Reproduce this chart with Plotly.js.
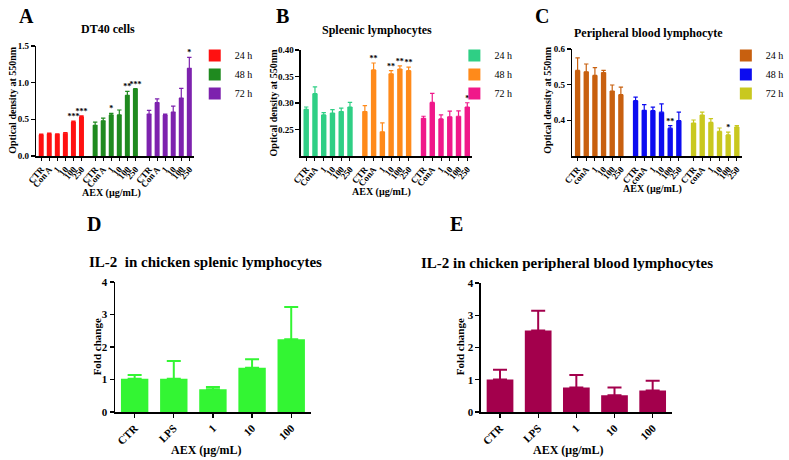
<!DOCTYPE html>
<html><head><meta charset="utf-8">
<script src="https://cdn.plot.ly/plotly-3.0.1.min.js"></script>
<style>html,body{margin:0;padding:0;background:#fff}#chart{width:789px;height:460px}</style>
</head><body><div id="chart"></div>
<script>
// ---------- DATA ----------
const timeGroups = ['24 h', '48 h', '72 h'];
const catsA = ['CTR', 'Con A', '1', '10', '100', '250'];
const catsB = ['CTR', 'ConA', '1', '10', '100', '250'];
const catsC = ['CTR', 'conA', '1', '10', '100', '250'];

// Panel A: DT40 cells
const a24 = [0.29, 0.305, 0.295, 0.31, 0.464, 0.536];
const a24err = [0.008, 0.008, 0.006, 0.008, 0.013, 0.01];
const a24sig = ['', '', '', '', '***', '***'];
const a48 = [0.418, 0.48, 0.56, 0.56, 0.827, 0.914];
const a48err = [0.045, 0.037, 0.02, 0.067, 0.055, 0.006];
const a48sig = ['', '', '*', '', '**', '***'];
const a72 = [0.573, 0.727, 0.56, 0.60, 0.79, 1.195];
const a72err = [0.05, 0.053, 0.013, 0.08, 0.133, 0.15];
const a72sig = ['', '', '', '', '', '*'];

// Panel B: Spleenic lymphocytes
const b24 = [0.288, 0.3175, 0.2775, 0.281, 0.284, 0.2925];
const b24err = [0.0045, 0.013, 0.0045, 0.0065, 0.0065, 0.0085];
const b24sig = ['', '', '', '', '', ''];
const b48 = [0.284, 0.3625, 0.2456, 0.355, 0.364, 0.361];
const b48err = [0.011, 0.013, 0.017, 0.006, 0.006, 0.0065];
const b48sig = ['', '**', '', '**', '**', '**'];
const b72 = [0.271, 0.301, 0.27, 0.274, 0.275, 0.2925];
const b72err = [0.004, 0.017, 0.0075, 0.0105, 0.01, 0.008];
const b72sig = ['', '', '', '', '', '*'];

// Panel C: Peripheral blood lymphocyte
const c24 = [0.540, 0.536, 0.526, 0.534, 0.482, 0.472];
const c24err = [0.035, 0.022, 0.022, 0.006, 0.017, 0.021];
const c24sig = ['', '', '', '', '', ''];
const c48 = [0.455, 0.428, 0.427, 0.423, 0.378, 0.399];
const c48err = [0.01, 0.016, 0.01, 0.023, 0.007, 0.024];
const c48sig = ['', '', '', '', '**', ''];
const c72 = [0.3925, 0.415, 0.394, 0.369, 0.359, 0.381];
const c72err = [0.0085, 0.008, 0.011, 0.0095, 0.008, 0.004];
const c72sig = ['', '', '', '', '*', ''];

// Panels D/E: IL-2 fold change
const catsIL = ['CTR', 'LPS', '1', '10', '100'];
const dVals = [1.02, 1.02, 0.70, 1.36, 2.24];
const dErr = [0.12, 0.55, 0.07, 0.26, 0.99];
const eVals = [1.01, 2.53, 0.76, 0.52, 0.67];
const eErr = [0.30, 0.61, 0.39, 0.24, 0.30];

// ---------- STYLE ----------
const W = 789, H = 460;
const SERIF = 'Liberation Serif, Times New Roman, serif';
const px = v => v / W;
const py = v => 1 - v / H;
const GROUP_STEP = 6.7;
const colA = ['#ff1111', '#1f8a1f', '#7d22ae'];
const colB = ['#2fcf85', '#ff8a1a', '#f0188a'];
const colC = ['#c8600f', '#0c0cf0', '#c9c81f'];
const colD = '#33f533';
const colE = '#a3004c';

const traces = [];
function xpos(g, n) { return Array.from({length: n}, (_, i) => g * GROUP_STEP + i); }

function addPanel(ax, ay, legendId, cats, series, colors) {
  series.forEach((s, g) => {
    const xs = xpos(g, cats.length);
    traces.push({
      type: 'bar', x: xs, y: s.v, width: 0.62, name: timeGroups[g],
      xaxis: ax, yaxis: ay, legend: legendId,
      marker: {color: colors[g], line: {width: 0}},
      error_y: {type: 'data', symmetric: false, array: s.e, arrayminus: s.e.map(() => 0),
                color: colors[g], thickness: 1.2, width: 2.2},
      hoverinfo: 'skip'
    });
    const sx = [], sy = [], st = [];
    s.sig.forEach((t, i) => { if (t) { sx.push(xs[i]); sy.push(s.v[i] + s.e[i]); st.push(t); } });
    if (sx.length) traces.push({
      type: 'scatter', mode: 'text', x: sx, y: sy, text: st, textposition: 'top center',
      textfont: {family: SERIF, size: 8, color: '#000', weight: 'bold'},
      xaxis: ax, yaxis: ay, showlegend: false, hoverinfo: 'skip', cliponaxis: false
    });
  });
}

addPanel('x', 'y', 'legend', catsA, [
  {v: a24, e: a24err, sig: a24sig}, {v: a48, e: a48err, sig: a48sig}, {v: a72, e: a72err, sig: a72sig}], colA);
addPanel('x2', 'y2', 'legend2', catsB, [
  {v: b24, e: b24err, sig: b24sig}, {v: b48, e: b48err, sig: b48sig}, {v: b72, e: b72err, sig: b72sig}], colB);
addPanel('x3', 'y3', 'legend3', catsC, [
  {v: c24, e: c24err, sig: c24sig}, {v: c48, e: c48err, sig: c48sig}, {v: c72, e: c72err, sig: c72sig}], colC);

traces.push({type: 'bar', x: catsIL, y: dVals, xaxis: 'x4', yaxis: 'y4', width: 0.7, showlegend: false,
  marker: {color: colD}, hoverinfo: 'skip',
  error_y: {type: 'data', symmetric: false, array: dErr, arrayminus: dErr.map(() => 0), color: colD, thickness: 2, width: 7}});
traces.push({type: 'bar', x: catsIL, y: eVals, xaxis: 'x5', yaxis: 'y5', width: 0.7, showlegend: false,
  marker: {color: colE}, hoverinfo: 'skip',
  error_y: {type: 'data', symmetric: false, array: eErr, arrayminus: eErr.map(() => 0), color: colE, thickness: 2, width: 7}});

const tickF = s => ({family: SERIF, size: s, color: '#000', weight: 'bold'});
function topX(domain, anchor, cats) {
  const tv = [], tt = [];
  for (let g = 0; g < 3; g++) xpos(g, cats.length).forEach((x, i) => { tv.push(x); tt.push(cats[i]); });
  return {domain, anchor, range: [-0.6, 2 * GROUP_STEP + cats.length - 1 + 0.55], tickvals: tv, ticktext: tt,
    tickangle: -50, tickfont: tickF(9), showline: true, linecolor: '#000', linewidth: 1.5,
    ticks: 'outside', ticklen: 3, tickwidth: 1, tickcolor: '#000', showgrid: false, zeroline: false, fixedrange: true};
}
function topY(domain, anchor, range, tickvals, fmt) {
  return {domain, anchor, range, tickvals, tickformat: fmt, tickfont: tickF(9), showline: true, linecolor: '#000',
    linewidth: 1.5, ticks: 'outside', ticklen: 4, tickwidth: 1.2, tickcolor: '#000', showgrid: false, zeroline: false, fixedrange: true};
}
function botX(domain, anchor) {
  return {domain, anchor, type: 'category', range: [-0.5, 4.5], tickangle: -45, tickfont: tickF(11),
    showline: true, linecolor: '#000', linewidth: 1.5, ticks: 'outside', ticklen: 4, tickwidth: 1.2, tickcolor: '#000',
    showgrid: false, zeroline: false, fixedrange: true};
}
function botY(domain, anchor) {
  return {domain, anchor, range: [0, 4], dtick: 1, tickfont: tickF(11), showline: true, linecolor: '#000', linewidth: 1.5,
    ticks: 'outside', ticklen: 4, tickwidth: 1.2, tickcolor: '#000', showgrid: false, zeroline: false, fixedrange: true};
}

const legendBase = (x, y) => ({x, y, xanchor: 'left', yanchor: 'top', bgcolor: 'rgba(0,0,0,0)',
  font: {family: SERIF, size: 10, color: '#000'}, itemwidth: 30, tracegroupgap: 0});

const ann = [];
function label(text, x, y, size, opts) {
  ann.push(Object.assign({text, x: px(x), y: py(y), xref: 'paper', yref: 'paper', showarrow: false,
    xanchor: 'center', yanchor: 'middle', font: {family: SERIF, size, color: '#000', weight: 'bold'}}, opts || {}));
}
label('A', 27, 16, 20); label('B', 287, 16, 20); label('C', 551, 16, 20);
label('D', 96, 224, 20); label('E', 464, 224, 20);
label('DT40 cells', 110, 29, 12); label('Spleenic lymphocytes', 383, 30, 12);
label('Peripheral blood lymphocyte', 659, 33, 12);
label('IL-2  in chicken splenic lymphocytes', 209, 262, 15);
label('IL-2 in chicken peripheral blood lymphocytes', 577, 263, 15);
label('AEX (µg/mL)', 113, 193, 10); label('AEX (µg/mL)', 388, 192, 10); label('AEX (µg/mL)', 663, 189, 10);
label('AEX (μg/mL)', 209, 450, 12); label('AEX (μg/mL)', 578, 450, 12);
label('Optical density at 550nm', 13, 100, 10, {textangle: -90});
label('Optical density at 550nm', 278, 102, 10, {textangle: -90});
label('Optical density at 550nm', 557, 100, 10, {textangle: -90});
label('Fold change', 99, 347, 11, {textangle: -90});
label('Fold change', 468, 347, 11, {textangle: -90});

const layout = {
  width: W, height: H, margin: {l: 0, r: 0, t: 0, b: 0}, paper_bgcolor: '#fff', plot_bgcolor: 'rgba(0,0,0,0)',
  barmode: 'overlay', showlegend: true, font: {family: SERIF, color: '#000'},
  xaxis: topX([px(37), px(197)], 'y', catsA),
  yaxis: topY([py(156), py(46)], 'x', [0, 1.5], [0, 0.5, 1.0, 1.5], '.1f'),
  xaxis2: topX([px(306), px(480)], 'y2', catsB),
  yaxis2: topY([py(156), py(50)], 'x2', [0.2, 0.4], [0.25, 0.30, 0.35, 0.40], '.2f'),
  xaxis3: topX([px(582), px(754)], 'y3', catsC),
  yaxis3: topY([py(156), py(49)], 'x3', [0.3, 0.6], [0.4, 0.5, 0.6], '.1f'),
  xaxis4: botX([px(117), px(316)], 'y4'),
  yaxis4: botY([py(412), py(282)], 'x4'),
  xaxis5: botX([px(489), px(683)], 'y5'),
  yaxis5: botY([py(412), py(283)], 'x5'),
  legend: legendBase(px(198), py(41)),
  legend2: legendBase(px(462), py(41)),
  legend3: legendBase(px(738), py(41)),
  annotations: ann
};
Plotly.newPlot('chart', traces, layout, {staticPlot: true, displayModeBar: false});
</script></body></html>
